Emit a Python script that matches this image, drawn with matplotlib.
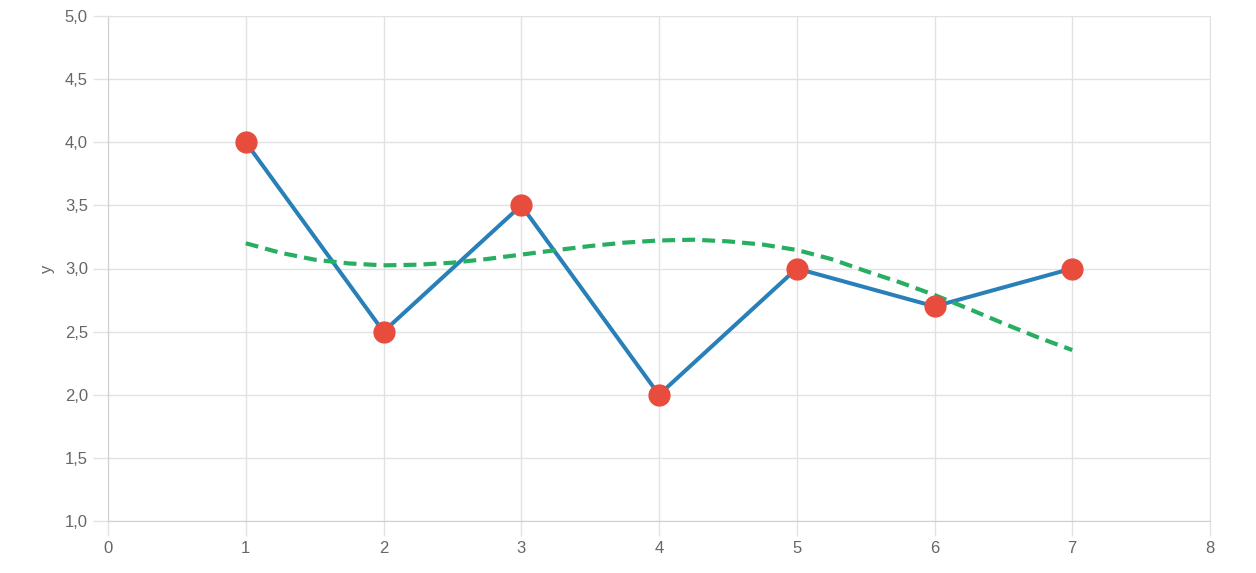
import matplotlib
matplotlib.use('Agg')
import matplotlib.pyplot as plt
from matplotlib.ticker import FuncFormatter, MultipleLocator

plt.rcParams['font.family'] = ['Liberation Sans', 'DejaVu Sans']

# data points
x = [1, 2, 3, 4, 5, 6, 7]
y = [4.0, 2.5, 3.5, 2.0, 3.0, 2.7, 3.0]

# trend curve, every 0.25
trend_x = [1.0, 1.25, 1.5, 1.75, 2.0, 2.25, 2.5, 2.75, 3.0, 3.25, 3.5, 3.75, 4.0,
           4.25, 4.5, 4.75, 5.0, 5.25, 5.5, 5.75, 6.0, 6.25, 6.5, 6.75, 7.0]
trend_y = [3.20, 3.125, 3.07, 3.04, 3.025, 3.03, 3.046, 3.075, 3.11, 3.145, 3.178,
           3.205, 3.222, 3.228, 3.215, 3.19, 3.147, 3.075, 2.98, 2.89, 2.79, 2.68,
           2.565, 2.455, 2.354]

fig = plt.figure(figsize=(12.56, 5.73), dpi=100)
ax = fig.add_axes([108/1256, 1 - 521/573, (1210 - 108)/1256, (521 - 16)/573])

ax.plot(x, y, color='#2980b9', lw=2.9, zorder=3)
ax.plot(trend_x, trend_y, color='#27ae60', lw=3, dashes=(3.1, 1.7), zorder=4)
ax.plot(x, y, 'o', color='#e74c3c', ms=15, mec='#e74c3c', zorder=5)

ax.set_xlim(0, 8)
ax.set_ylim(1, 5)
ax.xaxis.set_major_locator(MultipleLocator(1))
ax.yaxis.set_major_locator(MultipleLocator(0.5))
ax.yaxis.set_major_formatter(FuncFormatter(lambda v, p: f"{v:.1f}".replace('.', ',')))

ax.grid(True, color='#e2e2e2', lw=1)
ax.set_axisbelow(True)
for s in ['top', 'right']:
    ax.spines[s].set_color('#e2e2e2')
for s in ['left', 'bottom']:
    ax.spines[s].set_color('#cfcfcf')
ax.tick_params(length=11, width=1, color='#e2e2e2', labelcolor='#666666',
               labelsize=12, pad=3.5)
ax.set_ylabel('y', color='#666666', fontsize=12, labelpad=7)

plt.savefig('out.png', dpi=100)
plt.close()
